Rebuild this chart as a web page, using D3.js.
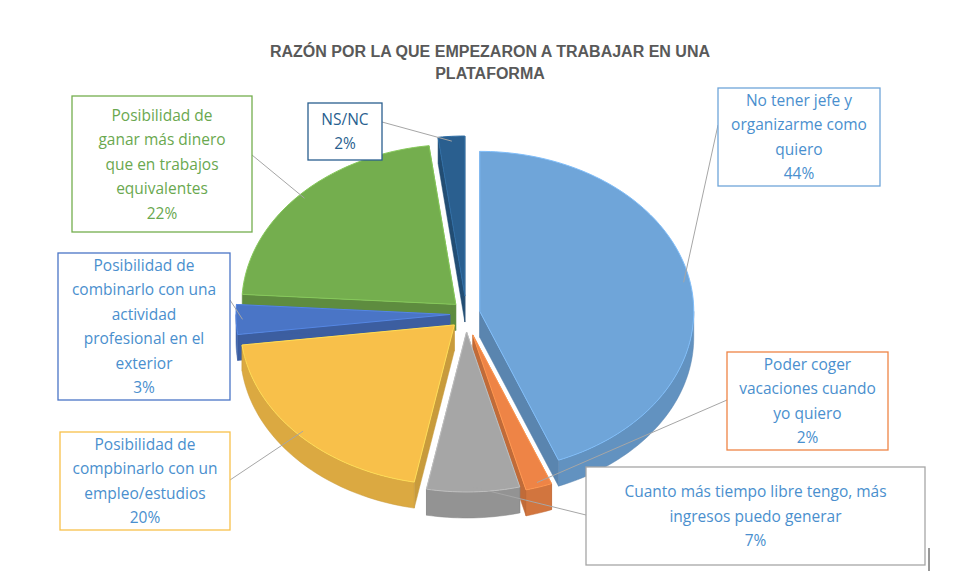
<!DOCTYPE html><html><head><meta charset="utf-8">
<script src="https://cdn.jsdelivr.net/npm/d3@7"></script>
<style>body{margin:0;background:#fff}text{font-family:"Open Sans",Arial,sans-serif}</style></head><body>
<svg id="c" width="963" height="578"></svg>
<script>
const categories=["No tener jefe y organizarme como quiero","Poder coger vacaciones cuando yo quiero","Cuanto más tiempo libre tengo, más ingresos puedo generar","Posibilidad de compbinarlo con un empleo/estudios","Posibilidad de combinarlo con una actividad profesional en el exterior","Posibilidad de ganar más dinero que en trabajos equivalentes","NS/NC"];
const values=[44,2,7,20,3,22,2];
const labelLines=[["No tener jefe y","organizarme como","quiero","44%"],["Poder coger","vacaciones cuando","yo quiero","2%"],["Cuanto más tiempo libre tengo, más","ingresos puedo generar","7%"],["Posibilidad de","compbinarlo con un","empleo/estudios","20%"],["Posibilidad de","combinarlo con una","actividad","profesional en el","exterior","3%"],["Posibilidad de","ganar más dinero","que en trabajos","equivalentes","22%"],["NS/NC","2%"]];
const colors=["#6fa5d9","#ee8446","#a6a6a6","#f8c04a","#4a75c6","#74ae4e","#2a5f8f"];
const textColors=["#4a8fce","#4a8fce","#4a8fce","#4a8fce","#4a8fce","#6aa84f","#2a5f8f"];
const boxes=[[718,88,162,98],[727,352,161,98],[586,467,339,98],[60,432,170,98],[58,253,172,147],[72,96,180,136],[308,103,74,57]];
const anchors=[[718,125],[727,400],[586,515],[230,480],[230,300],[252,155],[382,122]];
const svg=d3.select("#c");
svg.append("text").attr("x",490).attr("y",57).attr("text-anchor","middle").attr("font-size",16).attr("font-weight","bold").attr("fill","#595959").style("font-family","'Liberation Sans', Arial").text("RAZÓN POR LA QUE EMPEZARON A TRABAJAR EN UNA");
svg.append("text").attr("x",490).attr("y",79).attr("text-anchor","middle").attr("font-size",16).attr("font-weight","bold").attr("fill","#595959").style("font-family","'Liberation Sans', Arial").text("PLATAFORMA");
const cx=466,cy=314,rx=214,ry=160,depth=26,ex=[14,22,18,16,16,14,18];
const pie=d3.pie().sort(null)(values);
const pt=(a,o,dy)=>[o[0]+rx*Math.sin(a),o[1]-ry*Math.cos(a)+dy];
function arcPts(a0,a1,o,dy){const n=Math.max(4,Math.ceil((a1-a0)*40));return d3.range(n+1).map(i=>pt(a0+(a1-a0)*i/n,o,dy));}
const slices=pie.map((p,i)=>{const m=(p.startAngle+p.endAngle)/2;const o=[cx+ex[i]*Math.sin(m),cy-ex[i]*Math.cos(m)];return{p,i,o,m};});
const order=slices.slice().sort((a,b)=>(-Math.cos(a.m))-(-Math.cos(b.m)));
const line=d3.line();
order.forEach(s=>{const {p,i,o}=s;const c=d3.color(colors[i]);const dk=c.darker(0.6).toString();const g=svg.append("g");
 [p.startAngle,p.endAngle].forEach(a=>{const q=pt(a,o,0);g.append("path").attr("d",line([o,q,[q[0],q[1]+depth],[o[0],o[1]+depth]])+"Z").attr("fill",dk).attr("stroke",dk).attr("stroke-width",0.5);});
 const f0=Math.max(p.startAngle,Math.PI/2),f1=Math.min(p.endAngle,3*Math.PI/2);
 if(f1>f0){const top=arcPts(f0,f1,o,0),bot=arcPts(f0,f1,o,depth).reverse();g.append("path").attr("d",line(top.concat(bot))+"Z").attr("fill",c.darker(0.35)).attr("stroke",dk).attr("stroke-width",0.5);}
 g.append("path").attr("d",line([o].concat(arcPts(p.startAngle,p.endAngle,o,0)))+"Z").attr("fill",colors[i]).attr("stroke",c.brighter(0.4)).attr("stroke-width",1);
});
slices.forEach(s=>{const q=pt(s.m,s.o,0);const a=anchors[s.i];const inner=[s.o[0]+(q[0]-s.o[0])*0.97,s.o[1]+(q[1]-s.o[1])*0.97];
 svg.append("line").attr("x1",a[0]).attr("y1",a[1]).attr("x2",inner[0]).attr("y2",inner[1]).attr("stroke","#a6a6a6").attr("stroke-width",1);});
boxes.forEach((b,i)=>{svg.append("rect").attr("x",b[0]).attr("y",b[1]).attr("width",b[2]).attr("height",b[3]).attr("fill","#fff").attr("stroke",colors[i]).attr("stroke-width",1.3);
 const L=labelLines[i],lh=24.5,y0=b[1]+b[3]/2-(L.length-1)*lh/2+5.5;
 L.forEach((t,k)=>svg.append("text").attr("x",b[0]+b[2]/2).attr("y",y0+k*lh).attr("text-anchor","middle").attr("font-size",15.5).attr("fill",textColors[i]).text(t));});
svg.append("line").attr("x1",929).attr("y1",548).attr("x2",929).attr("y2",571).attr("stroke","#333");
</script></body></html>
